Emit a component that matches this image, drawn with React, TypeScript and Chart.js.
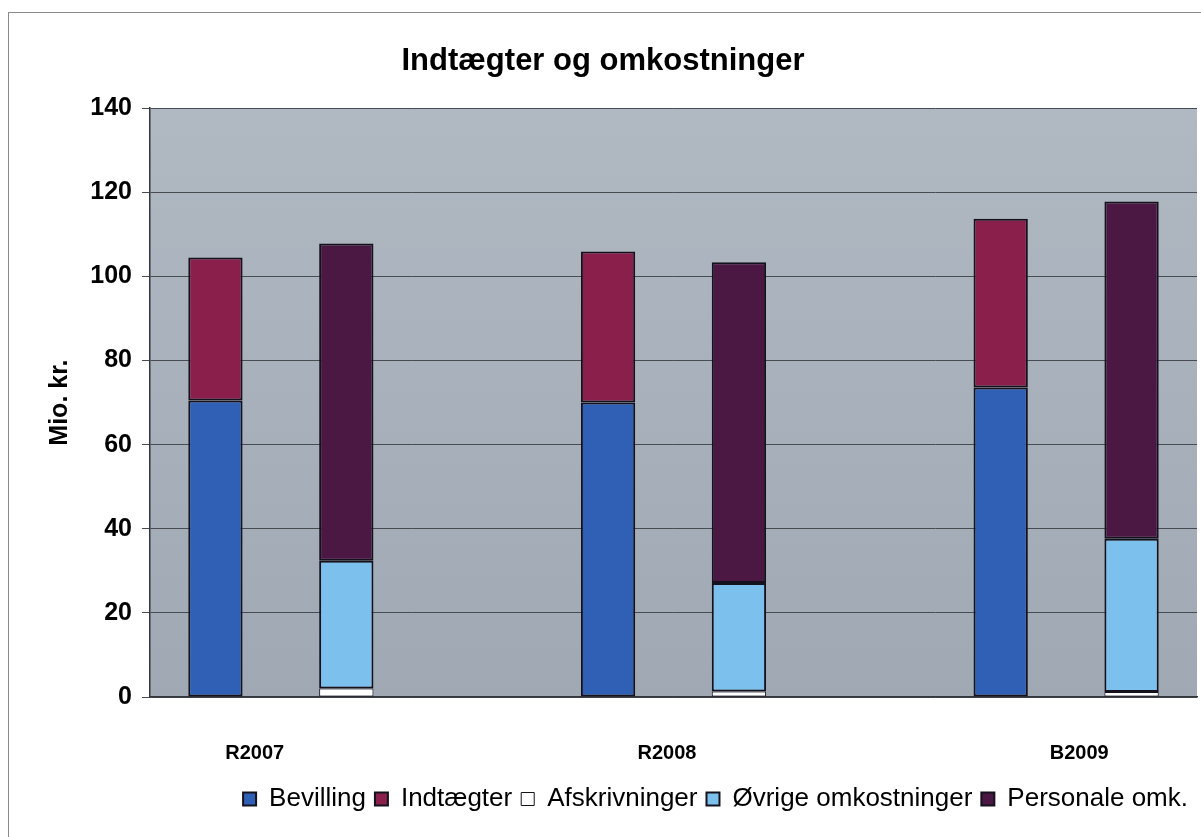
import React, { useEffect, useRef } from 'react';
import { Chart, registerables } from 'chart.js';

Chart.register(...registerables);

// ---- data ----
const categories = ['R2007', 'R2008', 'B2009'];
const bevilling = [70.5, 70.0, 73.6];
const indtaegter = [34.0, 35.9, 40.1];
const afskrivninger = [2.0, 1.3, 1.2];
const oevrige = [30.4, 25.8, 36.4];
const personale = [75.4, 76.3, 80.2];
const yMin = 0;
const yMax = 140;
const yStep = 20;

// each category: income bar slot, cost bar slot, then an empty gap slot
const slotCount = categories.length * 3 - 1;
const slotLabels: string[] = [];
for (let i = 0; i < slotCount; i++) {
  const g = Math.floor(i / 3);
  const k = i % 3;
  slotLabels.push(k === 0 ? categories[g] + ' indtægter' : k === 1 ? categories[g] + ' omkostninger' : 'gap ' + g);
}
function toSlots(values: number[], offset: number) {
  const arr: (number | null)[] = new Array(slotCount).fill(null);
  values.forEach((v, i) => {
    arr[i * 3 + offset] = v;
  });
  return arr;
}

const FONT = "'Liberation Sans', Arial, sans-serif";

const plotBg = {
  id: 'plotBg',
  beforeDraw(chart: any) {
    const { ctx, chartArea } = chart;
    const { left, top, right, bottom } = chartArea;
    const g = ctx.createLinearGradient(0, top, 0, bottom);
    g.addColorStop(0, '#b0b8c2');
    g.addColorStop(1, '#a0a9b3');
    ctx.save();
    ctx.fillStyle = g;
    ctx.fillRect(left, top, right - left, bottom - top);
    ctx.restore();
  },
};

const groupLabels = {
  id: 'groupLabels',
  afterDraw(chart: any, _args: any, opts: any) {
    const { ctx } = chart;
    const xs = chart.scales.x;
    ctx.save();
    ctx.font = `bold ${opts.size}px ${FONT}`;
    ctx.fillStyle = '#000';
    ctx.textAlign = 'center';
    ctx.textBaseline = 'middle';
    opts.labels.forEach((t: string, i: number) => {
      ctx.fillText(t, xs.getPixelForValue(opts.slots[i]), opts.y);
    });
    ctx.restore();
  },
};

export default function App() {
  const ref = useRef<HTMLCanvasElement | null>(null);

  useEffect(() => {
    if (!ref.current) return;
    const border = '#14121c';
    const common = {
      borderColor: border,
      borderWidth: 2,
      borderSkipped: false as const,
      categoryPercentage: 1,
      barPercentage: 0.415,
    };
    const chart = new Chart(ref.current, {
      type: 'bar',
      data: {
        labels: slotLabels,
        datasets: [
          { label: 'Bevilling', data: toSlots(bevilling, 0), backgroundColor: '#3060b6', ...common },
          { label: 'Indtægter', data: toSlots(indtaegter, 0), backgroundColor: '#8b1f4c', ...common },
          { label: 'Afskrivninger', data: toSlots(afskrivninger, 1), backgroundColor: '#ffffff', ...common, borderWidth: 1 },
          { label: 'Øvrige omkostninger', data: toSlots(oevrige, 1), backgroundColor: '#7cc0ee', ...common },
          { label: 'Personale omk.', data: toSlots(personale, 1), backgroundColor: '#4b1743', ...common },
        ],
      },
      options: {
        responsive: false,
        animation: false,
        layout: { padding: { left: 0, right: 4, top: 0, bottom: 15 } },
        scales: {
          x: {
            stacked: true,
            ticks: { display: false },
            grid: { display: false },
            border: { display: true, color: '#33363d', width: 1.5 },
            afterFit: (s: any) => {
              s.height = 80;
            },
          },
          y: {
            stacked: true,
            min: yMin,
            max: yMax,
            ticks: {
              stepSize: yStep,
              padding: 10,
              color: '#000',
              font: { family: FONT, size: 25, weight: 'bold' },
            },
            grid: { color: '#474b52', lineWidth: 1, tickLength: 8, drawTicks: true },
            border: { display: true, color: '#33363d', width: 1.5 },
            title: {
              display: true,
              text: 'Mio. kr.',
              color: '#000',
              font: { family: FONT, size: 25, weight: 'bold' },
              padding: { top: 36, bottom: 0 },
            },
            afterFit: (s: any) => {
              s.width = 141;
            },
          },
        },
        plugins: {
          title: {
            display: true,
            text: 'Indtægter og omkostninger',
            color: '#000',
            font: { family: FONT, size: 31, weight: 'bold' },
            padding: { top: 30, bottom: 28 },
          },
          legend: {
            position: 'bottom',
            align: 'end',
            labels: {
              color: '#000',
              boxWidth: 13,
              boxHeight: 13,
              padding: 9,
              font: { family: FONT, size: 26 },
            },
          },
          tooltip: { enabled: false },
          groupLabels: {
            labels: categories,
            slots: [0.3, 3.45, 6.6],
            y: 740,
            size: 20,
          },
        } as any,
      },
      plugins: [plotBg, groupLabels],
    });
    return () => chart.destroy();
  }, []);

  return (
    <div
      style={{
        position: 'absolute',
        left: 8,
        top: 12,
        width: 1193,
        height: 825,
        borderLeft: '1px solid #8a8a8a',
        borderTop: '1px solid #8a8a8a',
        boxSizing: 'border-box',
        background: '#fff',
        overflow: 'hidden',
      }}
    >
      <canvas ref={ref} width={1192} height={824} style={{ display: 'block' }} />
    </div>
  );
}
